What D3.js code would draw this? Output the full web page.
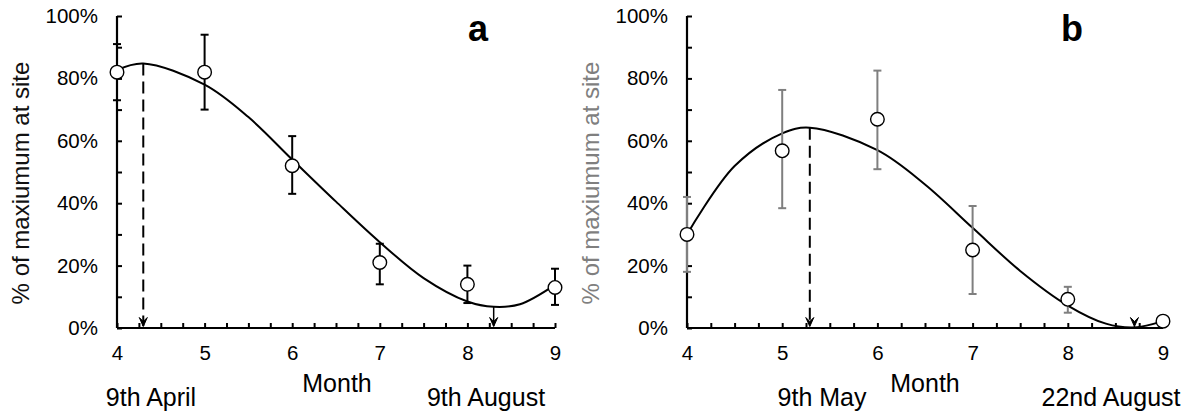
<!DOCTYPE html>
<html>
<head>
<meta charset="utf-8">
<script src="https://cdn.jsdelivr.net/npm/d3@7"></script>
<style>
  body { margin: 0; background: #fff; }
  svg { font-family: "Liberation Sans", Arial, sans-serif; }
</style>
</head>
<body>
<div id="chart"></div>
<script>
// observed means and error bars (% of maximum at site)
var months = [4, 5, 6, 7, 8, 9];
var meanA = [82, 82, 52, 21, 14, 13];
var lowA  = [73, 70, 43, 14, 8, 7.4];
var highA = [91, 94, 61.5, 27, 20, 19];

var meanB = [30, 56.8, 66.9, 25, 9.2, 2.2];
var lowB  = [18, 38.4, 50.9, 10.9, 4.9, 2.2];
var highB = [42, 76.3, 82.5, 39.1, 13.2, 2.2];

// fitted curve
var curveMonthsA = [4, 4.3, 5, 5.5, 6, 6.5, 7, 7.5, 8, 8.3, 8.6, 9];
var curveA       = [82.7, 84.8, 78, 67.6, 54, 40.5, 27.5, 16, 8.5, 6.8, 7.6, 13.8];
var curveMonthsB = [4, 4.5, 5, 5.29, 6, 6.5, 7, 7.5, 8, 8.4, 8.7, 9];
var curveB       = [30, 51.9, 62.4, 64.2, 57, 46, 32.1, 18.3, 7.2, 1.4, 0.2, 2.2];

// peak / trough markers
var peakA = [4.3, 84.8], troughA = [8.3, 6.8];
var peakB = [5.29, 64.2], troughB = [8.7, 0];

var yTicks = [0, 20, 40, 60, 80, 100];
var monthTicks = [4, 5, 6, 7, 8, 9];

var W = 1192, H = 414;
var svg = d3.select("#chart").append("svg")
    .attr("width", W).attr("height", H);

function panel(opt) {
  var x = d3.scaleLinear().domain([4, 9]).range([opt.x0, opt.x1]);
  var y = d3.scaleLinear().domain([0, 100]).range([328, 16]);
  var g = svg.append("g");

  // y axis: inward minor ticks every 10%
  g.append("g")
      .attr("transform", "translate(" + opt.x0 + ",0)")
      .call(d3.axisRight(y).tickValues(d3.range(0, 101, 10)).tickSize(5).tickFormat(""))
      .call(a => a.select(".domain").attr("stroke-width", 2.2).attr("d", "M0," + y(0) + "V" + y(100)))
      .call(a => a.selectAll(".tick line").attr("stroke-width", 2));
  g.append("g")
      .attr("transform", "translate(" + opt.x0 + ",0)")
      .call(d3.axisLeft(y).tickValues(yTicks).tickSize(0).tickPadding(19).tickFormat(d => d + "%"))
      .call(a => a.select(".domain").remove())
      .call(a => a.selectAll("text").attr("font-size", 20.5).attr("font-family", null).attr("fill", "#000"));

  // x axis: inward ticks every quarter month
  g.append("g")
      .attr("transform", "translate(0," + y(0) + ")")
      .call(d3.axisTop(x).tickValues(d3.range(4, 9.01, 0.25)).tickSize(5).tickFormat(""))
      .call(a => a.select(".domain").attr("stroke-width", 2.2).attr("d", "M" + x(4) + ",0H" + x(9)))
      .call(a => a.selectAll(".tick line").attr("stroke-width", 2));
  g.append("g")
      .attr("transform", "translate(0," + y(0) + ")")
      .call(d3.axisBottom(x).tickValues(monthTicks).tickSize(0).tickPadding(17).tickFormat(d3.format("d")))
      .call(a => a.select(".domain").remove())
      .call(a => a.selectAll("text").attr("font-size", 20.5).attr("font-family", null).attr("fill", "#000"));

  // y axis title
  g.append("text")
      .attr("transform", "translate(" + opt.titleX + "," + (y(50) + 11) + ") rotate(-90)")
      .attr("text-anchor", "middle")
      .attr("font-size", 24)
      .attr("fill", opt.titleColor)
      .text("% of maxiumum at site");

  // x axis title and date labels
  g.append("text").attr("x", opt.monthX).attr("y", 392)
      .attr("text-anchor", "middle").attr("font-size", 25).text("Month");
  g.append("text").attr("x", opt.date1X).attr("y", 406)
      .attr("text-anchor", "middle").attr("font-size", 25).text(opt.date1);
  g.append("text").attr("x", opt.date2X).attr("y", 406)
      .attr("text-anchor", "middle").attr("font-size", 25).text(opt.date2);

  // panel letter
  g.append("text").attr("x", opt.letterX).attr("y", 41)
      .attr("text-anchor", "middle").attr("font-size", 36).attr("font-weight", "bold")
      .text(opt.letter);

  // dashed line from peak to axis
  g.append("line")
      .attr("x1", x(opt.peak[0])).attr("x2", x(opt.peak[0]))
      .attr("y1", y(opt.peak[1])).attr("y2", y(0) - 2)
      .attr("stroke", "#000").attr("stroke-width", 2).attr("stroke-dasharray", "12,6");
  // short line to trough
  g.append("line")
      .attr("x1", x(opt.trough[0])).attr("x2", x(opt.trough[0]))
      .attr("y1", y(opt.trough[1])).attr("y2", y(0) - 2)
      .attr("stroke", "#000").attr("stroke-width", 1.5);
  [opt.peak, opt.trough].forEach(function (p) {
    g.append("path")
        .attr("transform", "translate(" + x(p[0]) + "," + (y(0) - 1.5) + ")")
        .attr("d", "M-4,-9L0,-5L4,-9L0,0Z")
        .attr("fill", "#000").attr("stroke", "#000").attr("stroke-width", 1)
        .attr("stroke-linejoin", "round");
  });

  // fitted curve
  var line = d3.line().curve(d3.curveCatmullRom.alpha(0.5))
      .x(d => x(d[0])).y(d => y(d[1]));
  g.append("path")
      .datum(opt.curveMonths.map((m, i) => [m, opt.curve[i]]))
      .attr("d", line)
      .attr("fill", "none").attr("stroke", "#000").attr("stroke-width", 2);

  // error bars
  var eb = g.append("g").attr("stroke", opt.barColor).attr("stroke-width", 2);
  months.forEach(function (m, i) {
    if (opt.high[i] === opt.low[i]) return;
    eb.append("line").attr("x1", x(m)).attr("x2", x(m))
        .attr("y1", y(opt.low[i])).attr("y2", y(opt.high[i]));
    [opt.low[i], opt.high[i]].forEach(function (v) {
      eb.append("line").attr("x1", x(m) - 4).attr("x2", x(m) + 4)
          .attr("y1", y(v)).attr("y2", y(v));
    });
  });

  // points
  g.selectAll("circle.pt")
      .data(months.map((m, i) => [m, opt.mean[i]]))
      .join("circle")
      .attr("class", "pt")
      .attr("cx", d => x(d[0])).attr("cy", d => y(d[1]))
      .attr("r", 6.8)
      .attr("fill", "#fff").attr("stroke", "#000").attr("stroke-width", 1.4);
}

panel({
  x0: 117, x1: 555, mean: meanA, low: lowA, high: highA,
  curveMonths: curveMonthsA, curve: curveA, peak: peakA, trough: troughA,
  barColor: "#000", titleColor: "#111", titleX: 29,
  monthX: 337, date1: "9th April", date1X: 151, date2: "9th August", date2X: 486,
  letter: "a", letterX: 478
});
panel({
  x0: 687, x1: 1163, mean: meanB, low: lowB, high: highB,
  curveMonths: curveMonthsB, curve: curveB, peak: peakB, trough: troughB,
  barColor: "#7f7f7f", titleColor: "#7f7f7f", titleX: 599,
  monthX: 925, date1: "9th May", date1X: 822, date2: "22nd August", date2X: 1111,
  letter: "b", letterX: 1072
});
</script>
</body>
</html>
